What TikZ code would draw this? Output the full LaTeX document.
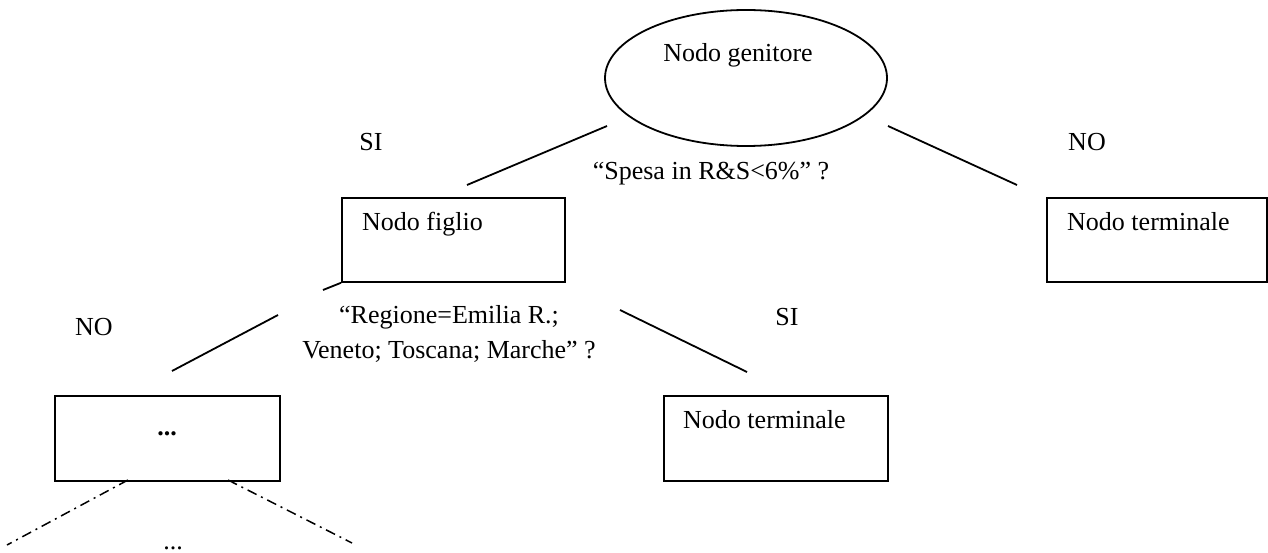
\documentclass[tikz,border=0pt]{standalone}
\usepackage{fontspec}
\setmainfont{Liberation Serif}
\usetikzlibrary{shapes.geometric}
\begin{document}
\begin{tikzpicture}[x=1pt,y=-1pt,
  box/.style={draw, line width=1.8pt, rectangle, minimum width=#1, minimum height=84pt, inner sep=0pt, anchor=north west},
  oval/.style={draw, ellipse, line width=1.8pt, minimum width=282pt, minimum height=136pt, inner sep=0pt},
  txt/.style={font=\fontsize{26}{35}\selectfont, inner sep=0pt},
  conn/.style={line width=1.8pt},
  ddot/.style={line width=1.5pt, dash pattern=on 10pt off 5pt on 2pt off 5pt}]
\useasboundingbox (0,0) rectangle (1268,553);
% nodes
\node[oval] (gen) at (746,78) {};
\node[txt] (gentxt) at (738,55) {Nodo genitore};
\node[box=223pt] (figlio) at (341,197) {};
\node[txt, anchor=west] (figliotxt) at (362,224) {Nodo figlio};
\node[box=220pt] (term1) at (1046,197) {};
\node[txt, anchor=west] (term1txt) at (1067,222) {Nodo terminale};
\node[box=224pt, minimum height=85pt] (term2) at (663,395) {};
\node[txt, anchor=west] (term2txt) at (683,420) {Nodo terminale};
\node[box=225pt, minimum height=85pt] (dots) at (54,395) {};
\node[txt] (dotstxt) at (167,434) {\textbf{...}};
\node[txt, anchor=base] (bdots) at (173,549) {...};
% labels
\node[txt] (si1) at (371,142) {SI};
\node[txt] (no1) at (1087,142) {NO};
\node[txt] (q1) at (711,174) {“Spesa in R\&S<6\%” ?};
\node[txt] (no2) at (94,327) {NO};
\node[txt] (si2) at (787,317) {SI};
\node[txt, align=center] (q2) at (449,334) {“Regione=Emilia R.;\\Veneto; Toscana; Marche” ?};
% connector ends
\coordinate (a1) at (607,126);
\coordinate (a2) at (467,185);
\coordinate (b1) at (888,126);
\coordinate (b2) at (1017,185);
\coordinate (c1) at (323,290);
\coordinate (d1) at (278,315);
\coordinate (d2) at (172,371);
\coordinate (e1) at (620,310);
\coordinate (e2) at (747,372);
\coordinate (f1) at (128,480);
\coordinate (f2) at (7,545);
\coordinate (g1) at (228,480);
\coordinate (g2) at (352,543);
% connectors
\draw[conn] (a1) -- (a2);
\draw[conn] (b1) -- (b2);
\draw[conn] (figlio.south west) -- (c1);
\draw[conn] (d1) -- (d2);
\draw[conn] (e1) -- (e2);
\draw[ddot] (f1) -- (f2);
\draw[ddot] (g1) -- (g2);
\end{tikzpicture}
\end{document}
